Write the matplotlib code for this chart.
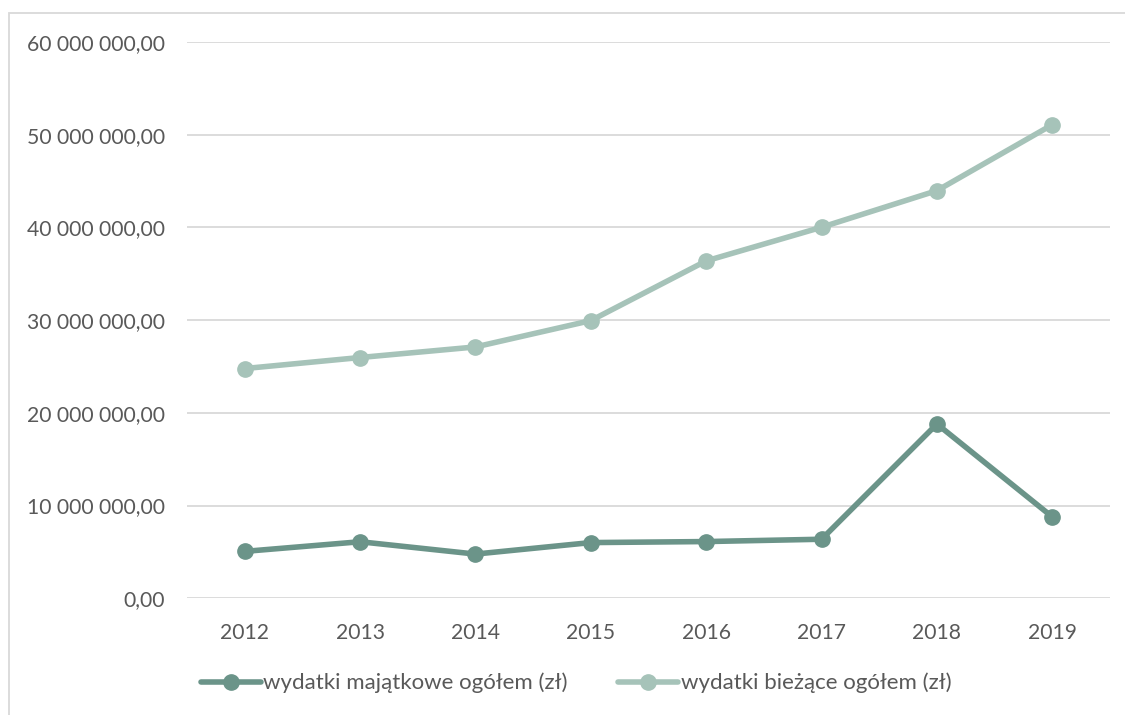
import matplotlib.pyplot as plt
from matplotlib.patches import Rectangle
from matplotlib.ticker import FuncFormatter

years = ["2012", "2013", "2014", "2015", "2016", "2017", "2018", "2019"]
majatkowe = [5.06e6, 6.10e6, 4.77e6, 6.01e6, 6.12e6, 6.37e6, 18.80e6, 8.78e6]
biezace = [24.78e6, 25.97e6, 27.11e6, 29.95e6, 36.39e6, 40.02e6, 43.97e6, 51.08e6]
labels = ["wydatki majątkowe ogółem (zł)", "wydatki bieżące ogółem (zł)"]

dark = "#6b9489"
light = "#a6c3b9"
txt = "#595959"

plt.rcParams['font.family'] = ['Lato', 'DejaVu Sans']

W, H = 1125, 715
fig = plt.figure(figsize=(W / 100, H / 100), dpi=100)
ax = fig.add_axes([187 / W, 1 - 598.3 / H, (1110 - 187) / W, (598.3 - 42) / H])

# ramka wykresu (widoczna tylko z lewej i u gory)
fig.patches.append(Rectangle((8.5 / W, -0.1), 1.2, 1 - 12.5 / H + 0.1,
                             transform=fig.transFigure, fill=False,
                             edgecolor="#d9d9d9", lw=1.3))

x = range(len(years))
ax.plot(x, majatkowe, color=dark, lw=4, marker="o", ms=11, label=labels[0],
        solid_capstyle="round")
ax.plot(x, biezace, color=light, lw=4, marker="o", ms=11, label=labels[1],
        solid_capstyle="round")

ax.set_xlim(-0.5, len(years) - 0.5)
ax.set_ylim(0, 60e6)
ax.set_yticks([i * 10e6 for i in range(7)])


def fmt(v, pos):
    s = "{:,.2f}".format(v).replace(",", " ").replace(".", ",")
    return s


ax.yaxis.set_major_formatter(FuncFormatter(fmt))
ax.set_xticks(list(x))
ax.set_xticklabels(years)
ax.grid(axis="y", color="#d9d9d9", lw=1.3)
ax.set_axisbelow(True)
for s in ax.spines.values():
    s.set_visible(False)
ax.tick_params(length=0, labelsize=15.2, colors=txt)
ax.tick_params(axis="y", pad=16)
ax.tick_params(axis="x", pad=18)

leg = fig.legend(loc="center", bbox_to_anchor=(576 / W, 1 - 683 / H), ncol=2,
                 frameon=False, fontsize=16, handlelength=2.7, handletextpad=0.1,
                 columnspacing=2.3, labelcolor=txt)

fig.savefig("out.png", dpi=100, facecolor="white")
